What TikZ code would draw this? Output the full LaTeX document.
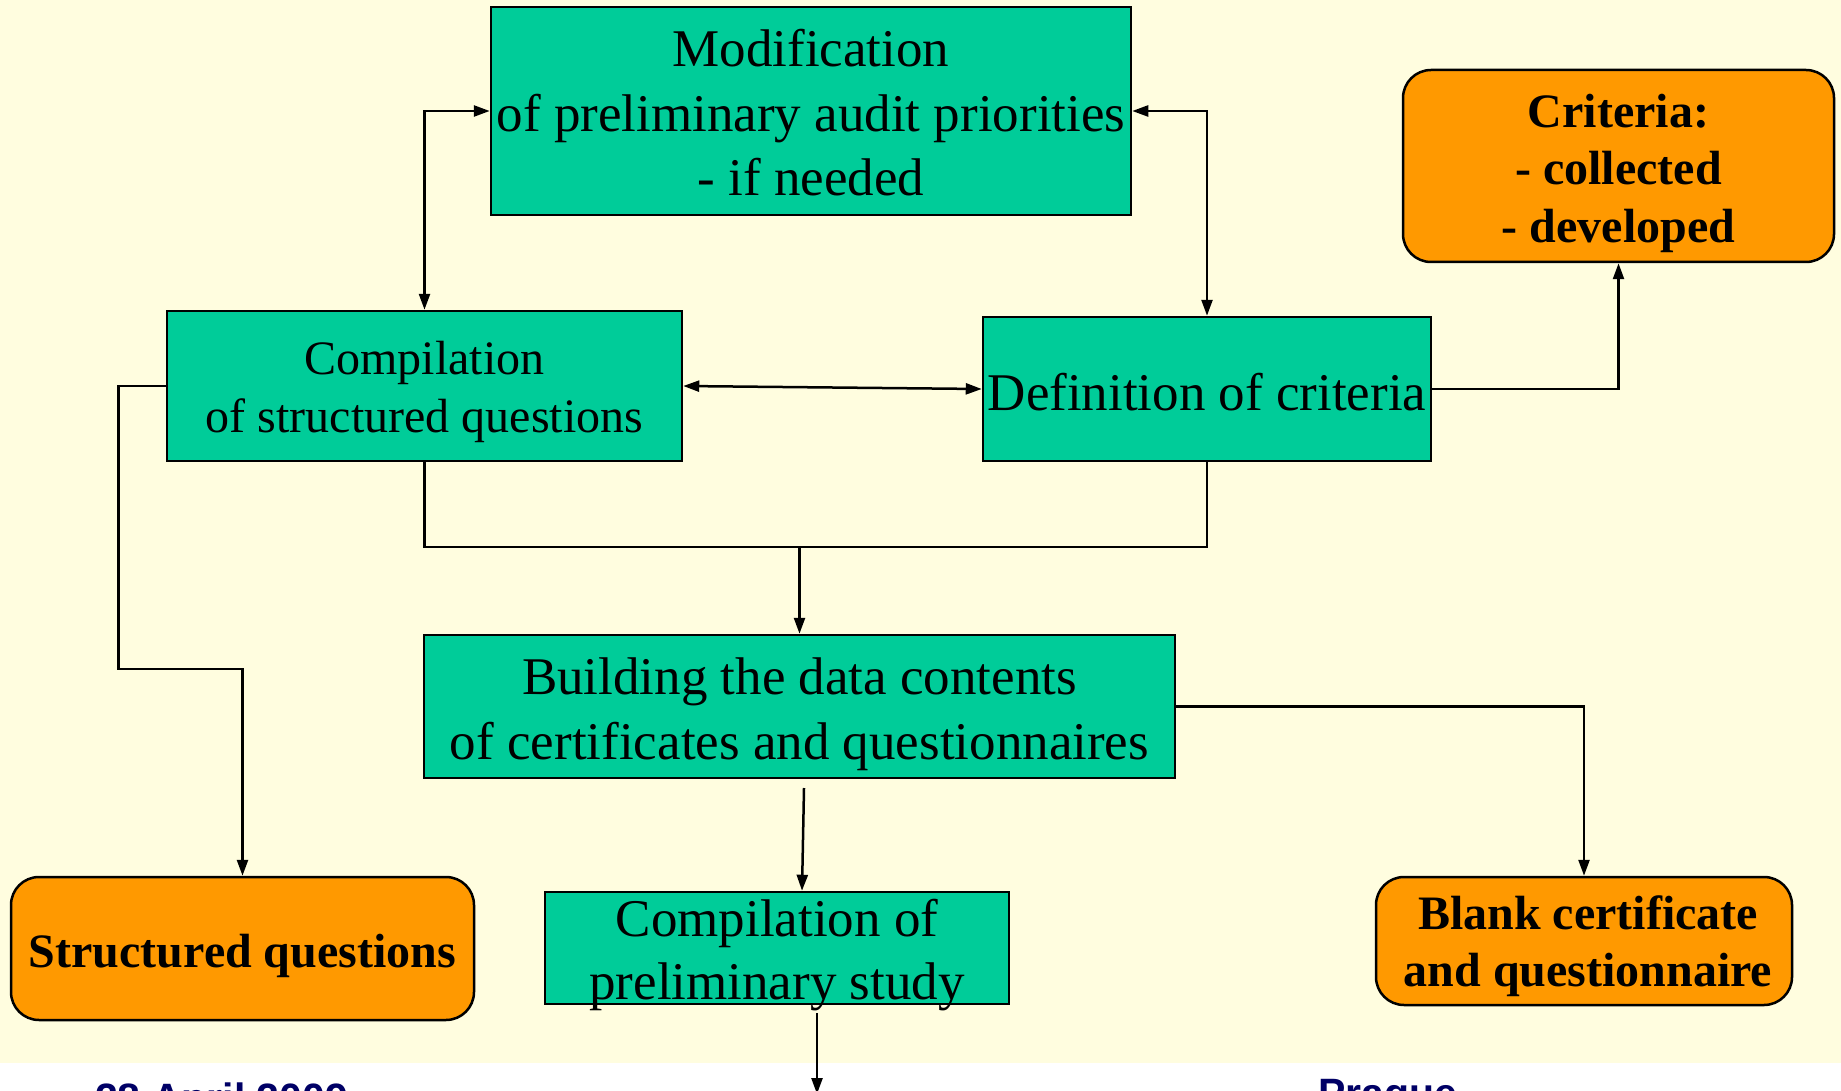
\documentclass[tikz,border=0pt]{standalone}
\usepackage{fontspec}
\setmainfont{Liberation Serif}
\newfontfamily\footfont{Liberation Sans}
\usetikzlibrary{arrows.meta}
\definecolor{paper}{RGB}{255,253,223}
\definecolor{stepgreen}{RGB}{0,204,153}
\definecolor{outorange}{RGB}{255,153,0}
\definecolor{footblue}{RGB}{0,0,102}
\begin{document}
\begin{tikzpicture}[x=1pt,y=-1pt,
  gbox/.style={draw=black, line width=2.5pt, fill=stepgreen, inner sep=0pt},
  obox/.style={draw=black, line width=2.5pt, fill=outorange, rounded corners=28pt,
    inner sep=0pt},
  gtext/.style={inner sep=0pt, align=center, font=\fontsize{53}{64.6}\selectfont},
  otext/.style={inner sep=0pt, align=center, font=\fontsize{48}{57.5}\selectfont\bfseries},
  tip/.tip={Triangle[length=16pt,width=11pt]},
  link/.style={line width=2.5pt, -tip},
  dlink/.style={line width=2.5pt, tip-tip},
  plain/.style={line width=2.5pt},
  foot/.style={font=\footfont\fontsize{41}{49}\selectfont\bfseries, text=footblue,
    inner sep=0pt, anchor=base west}
  ]
\useasboundingbox (0,0) rectangle (1841,1091);
\clip (0,0) rectangle (1841,1091);
\fill[white] (0,0) rectangle (1841,1091);
\fill[paper] (0,0) rectangle (1841,1063);

% process steps
\node[gbox, minimum width=640pt, minimum height=208pt] (top) at (811,111) {};
\node[gtext] (toptext) at ([yshift=-2pt]top.center)
  {Modification\\of preliminary audit priorities\\- if needed};
\node[gbox, minimum width=515pt, minimum height=150pt] (cq) at (424.5,386) {};
\node[gtext, font=\fontsize{48}{58.7}\selectfont] (cqtext) at ([yshift=-6pt]cq.center)
  {Compilation\\of structured questions};
\node[gbox, minimum width=448pt, minimum height=144pt] (def) at (1207,389) {};
\node[gtext] (deftext) at ([yshift=-3pt]def.center) {Definition of criteria};
\node[gbox, minimum width=751pt, minimum height=143pt] (build) at (799.5,706.5) {};
\node[gtext] (buildtext) at ([yshift=-8pt]build.center)
  {Building the data contents\\of certificates and questionnaires};
\node[gbox, minimum width=464pt, minimum height=112pt] (prelim) at (777,948) {};
\node[gtext, font=\fontsize{53}{63.4}\selectfont] (prelimtext) at ([yshift=-7pt]prelim.center)
  {Compilation of\\preliminary study};

% outputs
\node[obox, minimum width=431pt, minimum height=192pt] (crit) at (1618.5,166) {};
\node[otext] (crittext) at ([yshift=-7pt]crit.center)
  {Criteria:\\- collected\\- developed};
\node[obox, minimum width=463pt, minimum height=143pt] (sq) at (242.5,948.5) {};
\node[otext] (sqtext) at ([yshift=-7pt]sq.center) {Structured questions};
\node[obox, minimum width=416pt, minimum height=128pt] (blank) at (1584,941) {};
\node[otext] (blanktext) at ([xshift=4pt,yshift=-5pt]blank.center)
  {Blank certificate\\and questionnaire};

% connectors
\draw[dlink] (top.west) -| (cq.north);
\draw[dlink] (top.east) -| (def.north);
\draw[dlink] (cq.east) -- (def.west);
\draw[link] (def.east) -| (crit.south);

\coordinate (join) at (799.5,547);
\draw[plain] (cq.south) |- (join) -| (def.south);
\draw[link] (join) -- (build.north);

\coordinate (lbend) at (118.6,669);
\draw[link] (cq.west) -| (lbend) -| (sq.north);

\draw[link] (build.east) -| (blank.north);

\coordinate (bout) at (804,788);
\draw[link] (bout) -- ([xshift=25pt]prelim.north);

\coordinate (pout) at (817,1013);
\coordinate (pend) at (817,1094);
\draw[link] (pout) -- (pend);

% footer
\node[foot] (date) at (95,1112) {28 April 2009};
\node[foot] (place) at (1318,1107) {Prague};
\end{tikzpicture}
\end{document}
